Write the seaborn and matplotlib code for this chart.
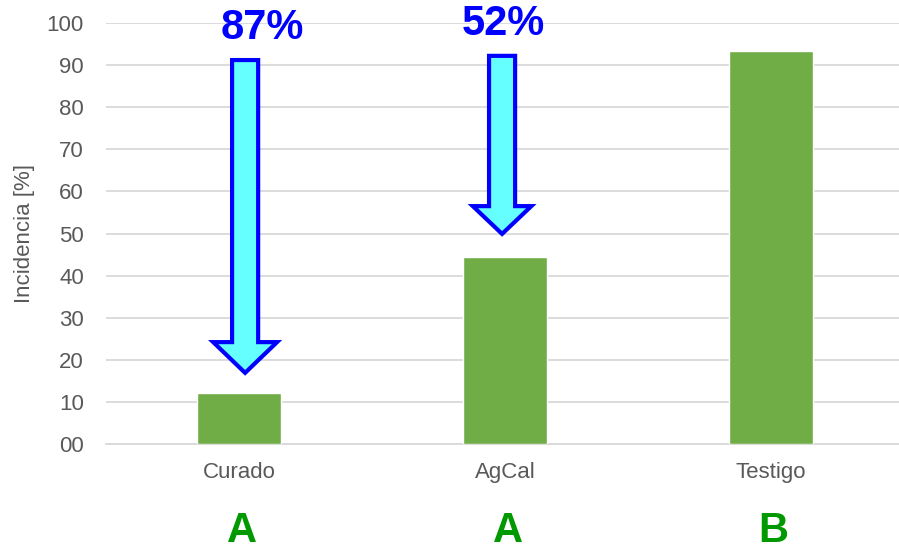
import matplotlib
matplotlib.use("Agg")
import matplotlib.pyplot as plt
from matplotlib.patches import FancyArrow
import seaborn as sns
import pandas as pd

# Incidence per treatment
tratamientos = ["Curado", "AgCal", "Testigo"]
incidencia = [12.1, 44.5, 93.3]
letras = ["A", "A", "B"]
y_ticks = [0, 10, 20, 30, 40, 50, 60, 70, 80, 90, 100]
y_tick_labels = ["00", "10", "20", "30", "40", "50", "60", "70", "80", "90", "100"]

sns.set_theme(style="whitegrid")
plt.rcParams["font.family"] = ["Liberation Sans", "DejaVu Sans"]

df = pd.DataFrame({"Tratamiento": tratamientos, "Incidencia": incidencia})

fig = plt.figure(figsize=(8.99, 5.5), dpi=100)
ax = fig.add_axes([106 / 899, 106 / 550, 798 / 899, 421 / 550])

sns.barplot(data=df, x="Tratamiento", y="Incidencia", color="#70AD47",
            saturation=1, width=0.316, ax=ax, zorder=3)

ax.set_ylim(0, 100)
ax.set_xlim(-0.5, 2.5)
ax.set_yticks(y_ticks)
ax.set_yticklabels(y_tick_labels)
ax.set_xlabel("")
ax.set_ylabel("Incidencia [%]", fontsize=16, color="#595959", labelpad=8)

ax.grid(axis="y", color="#d9d9d9", linewidth=1.3)
ax.grid(axis="x", visible=False)
for side in ["left", "right", "top"]:
    ax.spines[side].set_visible(False)
ax.spines["bottom"].set_color("#d9d9d9")
ax.spines["bottom"].set_linewidth(1.3)
ax.tick_params(axis="y", length=0, pad=16, labelsize=16, labelcolor="#595959")
ax.tick_params(axis="x", length=0, pad=13, labelsize=16, labelcolor="#595959")

# Reduction relative to the untreated control, shown with arrows
testigo = incidencia[2]
arrow_specs = [
    # (category index, x offset, top, tip, head length, head width)
    (0, 0.023, 91.2, 16.9, 7.3, 0.24),
    (1, -0.011, 92.2, 49.9, 6.6, 0.22),
]
label_pos = [(0.086, 98.8), (-0.008, 99.8)]
for (i, dx, top, tip, hl, hw), (lx, ly) in zip(arrow_specs, label_pos):
    arr = FancyArrow(i + dx, top, 0, tip - top, width=0.098, head_width=hw,
                     head_length=hl, length_includes_head=True,
                     facecolor="#66FFFF", edgecolor="#0000FF", linewidth=3,
                     zorder=5, clip_on=False)
    ax.add_patch(arr)
    reduccion = round((1 - incidencia[i] / testigo) * 100)
    ax.text(i + lx, ly, f"{reduccion}%", ha="center", va="center",
            fontsize=30, fontweight="bold", color="#0000FF", zorder=6)

# Significance letters under the categories
for i, letra in enumerate(letras):
    ax.text(i + 0.01, -20.6, letra, ha="center", va="center", fontsize=30,
            fontweight="bold", color="#009900", clip_on=False)

fig.savefig("out.png", dpi=100)
